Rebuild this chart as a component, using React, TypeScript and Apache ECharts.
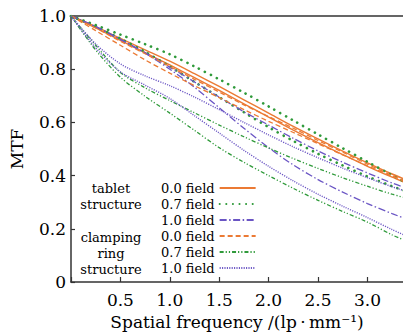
import React, { useEffect, useRef } from 'react';
import * as echarts from 'echarts';

// Spatial frequency samples (lp/mm)
const FREQUENCY = [0, 0.25, 0.5, 0.75, 1.0, 1.25, 1.5, 1.75, 2.0, 2.25, 2.5, 2.75, 3.0, 3.25, 3.4];

// Tablet structure
const TABLET_00_A = [1, 0.96, 0.916, 0.873, 0.83, 0.783, 0.735, 0.685, 0.635, 0.585, 0.538, 0.492, 0.448, 0.406, 0.383];
const TABLET_00_B = [1, 0.955, 0.908, 0.862, 0.816, 0.768, 0.72, 0.67, 0.62, 0.571, 0.524, 0.479, 0.435, 0.394, 0.371];
const TABLET_07_A = [1, 0.966, 0.93, 0.894, 0.856, 0.81, 0.762, 0.712, 0.66, 0.607, 0.555, 0.503, 0.452, 0.401, 0.372];
const TABLET_07_B = [1, 0.96, 0.915, 0.865, 0.81, 0.752, 0.695, 0.638, 0.582, 0.53, 0.482, 0.438, 0.397, 0.36, 0.34];
const TABLET_10_A = [1, 0.96, 0.912, 0.862, 0.808, 0.752, 0.695, 0.64, 0.59, 0.54, 0.493, 0.45, 0.41, 0.372, 0.352];
const TABLET_10_B = [1, 0.96, 0.912, 0.86, 0.8, 0.732, 0.655, 0.578, 0.505, 0.44, 0.385, 0.338, 0.295, 0.257, 0.236];

// Clamping ring structure
const RING_00_A = [1, 0.955, 0.905, 0.858, 0.81, 0.762, 0.714, 0.666, 0.622, 0.578, 0.532, 0.488, 0.443, 0.4, 0.377];
const RING_00_B = [1, 0.945, 0.89, 0.835, 0.785, 0.738, 0.693, 0.648, 0.604, 0.562, 0.52, 0.478, 0.437, 0.397, 0.375];
const RING_07_A = [1, 0.89, 0.788, 0.73, 0.682, 0.636, 0.59, 0.546, 0.504, 0.464, 0.427, 0.392, 0.36, 0.33, 0.315];
const RING_07_B = [1, 0.872, 0.77, 0.698, 0.635, 0.57, 0.505, 0.45, 0.4, 0.352, 0.307, 0.265, 0.225, 0.177, 0.153];
const RING_10_A = [1, 0.895, 0.82, 0.775, 0.738, 0.695, 0.648, 0.6, 0.553, 0.508, 0.467, 0.428, 0.392, 0.358, 0.34];
const RING_10_B = [1, 0.88, 0.79, 0.74, 0.69, 0.625, 0.56, 0.495, 0.435, 0.38, 0.33, 0.285, 0.242, 0.197, 0.172];

const LEGEND_NAMES = ['tablet|0.0 field', 'tablet|0.7 field', 'tablet|1.0 field', 'ring|0.0 field', 'ring|0.7 field', 'ring|1.0 field'];
const GROUP_LABELS = [['tablet', 'structure'], ['clamping', 'ring', 'structure']];

const FONT = '"DejaVu Serif", serif';
const ORANGE = '#eb7a34';
const GREEN = '#2f9a3a';
const PURPLE = '#6a55c4';

export default function App() {
  const ref = useRef<HTMLDivElement>(null);

  useEffect(() => {
    document.body.style.margin = '0';
    const chart = echarts.init(ref.current!, null, { renderer: 'svg' });

    const mk = (name: string, values: number[], color: string, type: any, width = 1.3, cap: any = 'butt') => ({
      type: 'line',
      name,
      data: FREQUENCY.map((f, i) => [f, values[i]]),
      showSymbol: false,
      symbol: 'none',
      smooth: 0.3,
      clip: true,
      lineStyle: { color, type, width, cap },
      itemStyle: { color },
      emphasis: { disabled: true },
    });

    const dashed = [5, 3];
    const sparseDot = [0.1, 6.5];
    const dashDot = [7, 2.5, 1.5, 2.5];
    const dashDotDot = [4, 2, 1.2, 2, 1.2, 2];
    const denseDot = [1.1, 1.3];

    const series = [
      mk(LEGEND_NAMES[0], TABLET_00_A, ORANGE, 'solid', 1.4),
      mk(LEGEND_NAMES[0], TABLET_00_B, ORANGE, 'solid', 1.4),
      mk(LEGEND_NAMES[1], TABLET_07_A, GREEN, sparseDot, 2.6, 'round'),
      mk(LEGEND_NAMES[1], TABLET_07_B, GREEN, sparseDot, 2.6, 'round'),
      mk(LEGEND_NAMES[2], TABLET_10_A, PURPLE, dashDot, 1.3),
      mk(LEGEND_NAMES[2], TABLET_10_B, PURPLE, dashDot, 1.3),
      mk(LEGEND_NAMES[3], RING_00_A, ORANGE, dashed, 1.3),
      mk(LEGEND_NAMES[3], RING_00_B, ORANGE, dashed, 1.3),
      mk(LEGEND_NAMES[4], RING_07_A, GREEN, dashDotDot, 1.3),
      mk(LEGEND_NAMES[4], RING_07_B, GREEN, dashDotDot, 1.3),
      mk(LEGEND_NAMES[5], RING_10_A, PURPLE, denseDot, 1.4),
      mk(LEGEND_NAMES[5], RING_10_B, PURPLE, denseDot, 1.4),
    ];

    const labelStyle = { fontFamily: FONT, fontSize: 13, fill: '#000', textAlign: 'center', textVerticalAlign: 'middle' };
    const graphic: any[] = [];
    GROUP_LABELS[0].forEach((t, i) => graphic.push({ type: 'text', x: 111, y: 188 + i * 16, style: { ...labelStyle, text: t } }));
    GROUP_LABELS[1].forEach((t, i) => graphic.push({ type: 'text', x: 111, y: 237 + i * 16, style: { ...labelStyle, text: t } }));

    chart.setOption({
      animation: false,
      backgroundColor: '#ffffff',
      textStyle: { fontFamily: FONT, color: '#000' },
      grid: { left: 67, right: 0, top: 16, bottom: 47, containLabel: false },
      xAxis: [
        {
          type: 'value',
          min: 0,
          max: 3.36,
          interval: 0.5,
          name: 'Spatial frequency /(lp\u2009·\u2009mm\u207B\u00B9)',
          nameLocation: 'middle',
          nameGap: 31,
          nameTextStyle: { fontFamily: FONT, fontSize: 17, color: '#000' },
          axisLine: { show: true, lineStyle: { color: '#333', width: 1.5 } },
          axisTick: { show: true, inside: true, length: 5, lineStyle: { color: '#333', width: 1.2 } },
          axisLabel: {
            fontFamily: FONT,
            fontSize: 17,
            color: '#000',
            margin: 9,
            showMaxLabel: false,
            formatter: (v: number) => (v === 0 || Math.abs(v * 2 - Math.round(v * 2)) > 1e-6 ? '' : v.toFixed(1)),
          },
          splitLine: { show: false },
        },
        {
          type: 'value',
          position: 'top',
          min: 0,
          max: 3.36,
          axisLine: { show: true, lineStyle: { color: '#333', width: 1.5 } },
          axisTick: { show: false },
          axisLabel: { show: false },
          splitLine: { show: false },
        },
      ],
      yAxis: {
        type: 'value',
        min: 0,
        max: 1,
        interval: 0.2,
        name: 'MTF',
        nameLocation: 'middle',
        nameGap: 46,
        nameTextStyle: { fontFamily: FONT, fontSize: 17, color: '#000' },
        axisLine: { show: true, lineStyle: { color: '#333', width: 1.5 } },
        axisTick: { show: true, inside: true, length: 4, lineStyle: { color: '#333', width: 1.2 } },
        axisLabel: {
          fontFamily: FONT,
          fontSize: 17,
          color: '#000',
          margin: 5,
          formatter: (v: number) => (v === 0 ? '0' : v.toFixed(1)),
        },
        splitLine: { show: false },
      },
      legend: {
        data: LEGEND_NAMES,
        orient: 'vertical',
        left: 161,
        top: 181,
        align: 'right',
        itemWidth: 36,
        itemHeight: 14,
        itemGap: 2,
        padding: 0,
        selectedMode: false,
        itemStyle: { opacity: 0 },
        textStyle: { fontFamily: FONT, fontSize: 13, color: '#000', lineHeight: 14 },
        formatter: (name: string) => name.split('|')[1],
      },
      graphic,
      series,
    });

    return () => chart.dispose();
  }, []);

  return <div ref={ref} style={{ width: 403, height: 335 }} />;
}
